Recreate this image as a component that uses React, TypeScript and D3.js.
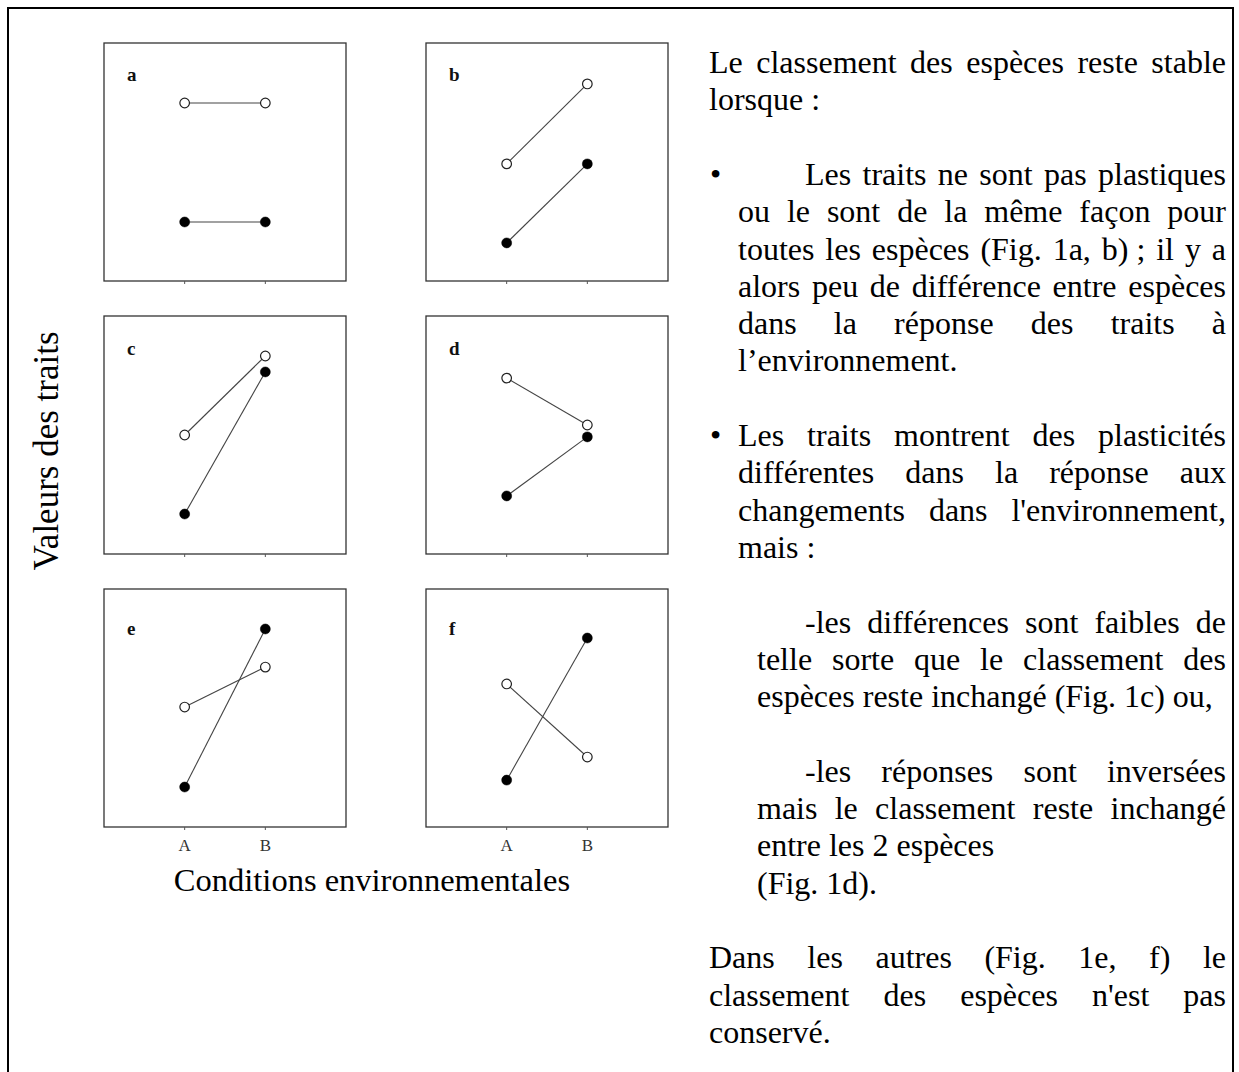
import React, { useMemo } from "react";
import * as d3 from "d3";

// conditions on the x axis of each small panel
const conditions = ["A", "B"];
const panelLetters = ["a", "b", "c", "d", "e", "f"];
// trait values (0-100) for the open-circle species, at A and B
const openSpecies = [
  [74.8, 74.8],
  [49.2, 82.8],
  [50.0, 83.2],
  [73.9, 54.2],
  [50.4, 67.2],
  [60.1, 29.4],
];
// trait values for the filled-circle species
const filledSpecies = [
  [24.8, 24.8],
  [16.0, 49.2],
  [16.8, 76.5],
  [24.4, 49.2],
  [16.8, 83.2],
  [19.7, 79.4],
];
const yTitle = "Valeurs des traits";
const xTitle = "Conditions environnementales";

// right-hand note, one entry per printed line: [kind, text]
const noteLines: [string, string][] = [
  ["p", "Le classement des espèces reste stable"],
  ["pl", "lorsque\u00a0:"],
  ["", ""],
  ["b1", "Les traits ne sont pas plastiques"],
  ["bi", "ou le sont de la même façon pour"],
  ["bi", "toutes les espèces (Fig. 1a, b)\u00a0; il y a"],
  ["bi", "alors peu de différence entre espèces"],
  ["bi", "dans la réponse des traits à"],
  ["bil", "l’environnement."],
  ["", ""],
  ["b2", "Les traits montrent des plasticités"],
  ["bi", "différentes dans la réponse aux"],
  ["bi", "changements dans l'environnement,"],
  ["bil", "mais\u00a0:"],
  ["", ""],
  ["s1", "-les différences sont faibles de"],
  ["si", "telle sorte que le classement des"],
  ["sil", "espèces reste inchangé (Fig. 1c) ou,"],
  ["", ""],
  ["s1", "-les réponses sont inversées"],
  ["si", "mais le classement reste inchangé"],
  ["sil", "entre les 2 espèces"],
  ["sil", "(Fig. 1d)."],
  ["", ""],
  ["p", "Dans les autres (Fig. 1e, f) le"],
  ["p", "classement des espèces n'est pas"],
  ["pl", "conservé."],
];

const FONT = '"Liberation Serif", "Times New Roman", serif';
const FS = 32;

// where each kind of line starts and whether it is justified
const kindLayout: Record<string, { x: number; justify: boolean; bullet?: boolean }> = {
  p: { x: 709, justify: true },
  pl: { x: 709, justify: false },
  b1: { x: 805, justify: true, bullet: true },
  b2: { x: 738, justify: true, bullet: true },
  bi: { x: 738, justify: true },
  bil: { x: 738, justify: false },
  s1: { x: 805, justify: true },
  si: { x: 757, justify: true },
  sil: { x: 757, justify: false },
};

export default function App() {
  const width = 1239;
  const height = 1072;
  const colX = [104, 426];
  const rowY = [43, 316, 589];
  const labelDy = [38, 39, 46];
  const pw = 242;
  const ph = 238;

  const x = d3.scalePoint<string>().domain(conditions).range([0, pw]).padding(1);
  const y = d3.scaleLinear().domain([0, 100]).range([ph, 0]);
  const line = d3
    .line<number>()
    .x((_, i) => x(conditions[i]) as number)
    .y((d) => y(d));

  const measure = useMemo(() => {
    const ctx = document.createElement("canvas").getContext("2d")!;
    ctx.font = `${FS}px ${FONT}`;
    return (s: string) => ctx.measureText(s).width;
  }, []);

  const textRight = 1226;
  const firstBaseline = 73;
  const lineStep = 37.3;

  return (
    <div style={{ position: "absolute", left: 0, top: 0 }}>
      <svg width={width} height={height} style={{ display: "block", background: "white" }}>
        <rect x={8} y={8} width={1225} height={1100} fill="none" stroke="#000" strokeWidth={2} />

        {panelLetters.map((letter, i) => {
          const col = i % 2;
          const row = Math.floor(i / 2);
          const series = [
            { values: openSpecies[i], open: true },
            { values: filledSpecies[i], open: false },
          ];
          return (
            <g key={letter} transform={`translate(${colX[col]},${rowY[row]})`}>
              <rect width={pw} height={ph} fill="white" stroke="#333" strokeWidth={1.3} />
              {conditions.map((c) => (
                <line key={c} x1={x(c)} x2={x(c)} y1={ph} y2={ph + 3} stroke="#555" strokeWidth={1} />
              ))}
              {row === 2 &&
                conditions.map((c) => (
                  <text
                    key={c}
                    x={x(c)}
                    y={ph + 24}
                    textAnchor="middle"
                    fontFamily={FONT}
                    fontSize={17}
                    fill="#333"
                  >
                    {c}
                  </text>
                ))}
              <text x={23} y={labelDy[row]} fontFamily={FONT} fontWeight="bold" fontSize={19} fill="#111">
                {letter}
              </text>
              {series.map((s, k) => (
                <path key={k} d={line(s.values) || ""} fill="none" stroke="#444" strokeWidth={1.1} />
              ))}
              {series.map((s, k) =>
                s.values.map((v, j) => (
                  <circle
                    key={`${k}-${j}`}
                    cx={x(conditions[j])}
                    cy={y(v)}
                    r={s.open ? 4.8 : 5}
                    fill={s.open ? "white" : "#000"}
                    stroke={s.open ? "#222" : "#000"}
                    strokeWidth={s.open ? 1.2 : 0.5}
                  />
                ))
              )}
            </g>
          );
        })}

        <text
          transform="translate(58,451) rotate(-90)"
          textAnchor="middle"
          fontFamily={FONT}
          fontSize={35}
          fill="#000"
        >
          {yTitle}
        </text>
        <text x={372} y={891} textAnchor="middle" fontFamily={FONT} fontSize={32.5} fill="#000">
          {xTitle}
        </text>

        {noteLines.map(([kind, txt], i) => {
          if (!kind) return null;
          const lay = kindLayout[kind];
          const base = firstBaseline + i * lineStep;
          const words = txt.split(" ");
          let content;
          if (lay.justify && words.length > 1) {
            const widths = words.map(measure);
            const gap = (textRight - lay.x - d3.sum(widths)) / (words.length - 1);
            let cx = lay.x;
            content = words.map((w, k) => {
              const el = (
                <tspan key={k} x={cx}>
                  {w}
                </tspan>
              );
              cx += widths[k] + gap;
              return el;
            });
          } else {
            content = <tspan x={lay.x}>{txt}</tspan>;
          }
          return (
            <g key={i}>
              {lay.bullet && (
                <text x={710} y={base} fontFamily={FONT} fontSize={FS} fill="#000">
                  •
                </text>
              )}
              <text y={base} fontFamily={FONT} fontSize={FS} fill="#000">
                {content}
              </text>
            </g>
          );
        })}
      </svg>
    </div>
  );
}
